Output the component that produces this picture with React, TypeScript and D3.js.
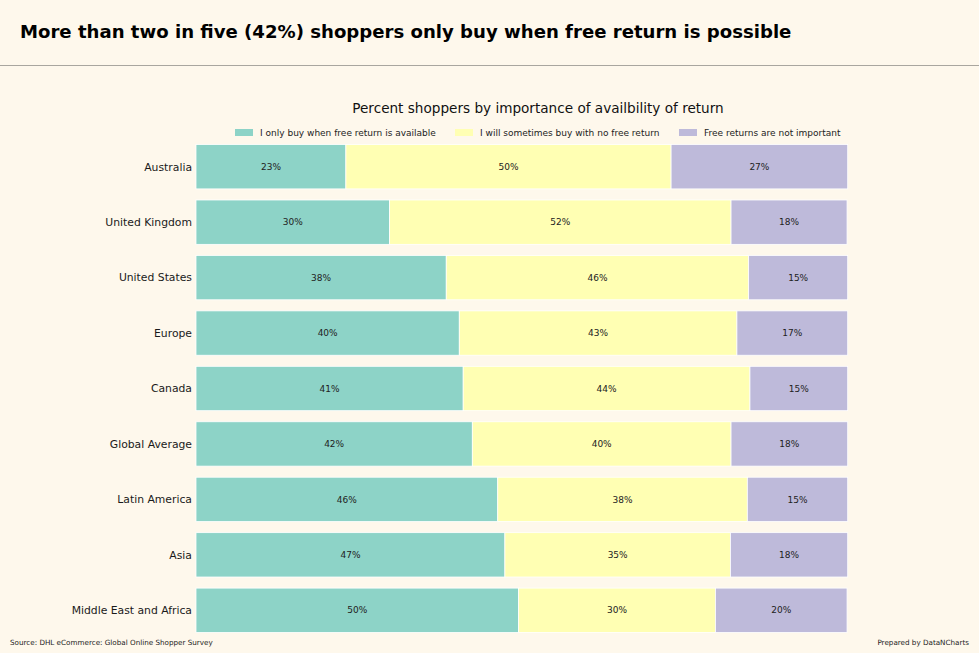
import { useEffect, useRef } from 'react';
import * as d3 from 'd3';

const regions = [
  'Australia',
  'United Kingdom',
  'United States',
  'Europe',
  'Canada',
  'Global Average',
  'Latin America',
  'Asia',
  'Middle East and Africa',
];
const onlyFree = [23.0, 29.7, 38.4, 40.4, 41.0, 42.4, 46.3, 47.4, 49.5];
const sometimes = [49.9, 52.4, 46.4, 42.6, 44.0, 39.7, 38.3, 34.6, 30.2];
const notImportant = [27.1, 17.8, 15.2, 17.0, 15.0, 17.9, 15.4, 18.0, 20.2];
const seriesNames = [
  'I only buy when free return is available',
  'I will sometimes buy with no free return',
  'Free returns are not important',
];
const seriesColors = ['#8dd3c7', '#ffffb3', '#bebada'];

const W = 979;
const H = 653;
const FONT = '"DejaVu Sans", sans-serif';

const App = () => {
  const svgRef = useRef<SVGSVGElement>(null);

  useEffect(() => {
    if (!svgRef.current) return;
    const svg = d3.select(svgRef.current);
    svg.selectAll('*').remove();

    svg.append('rect').attr('width', W).attr('height', H).attr('fill', '#fef8ec');

    // Header
    svg.append('text')
      .attr('x', 20)
      .attr('y', 38)
      .attr('font-family', FONT)
      .attr('font-weight', 'bold')
      .attr('font-size', 18.1)
      .attr('fill', '#000')
      .text('More than two in five (42%) shoppers only buy when free return is possible');

    svg.append('line')
      .attr('x1', 0).attr('x2', W)
      .attr('y1', 65.5).attr('y2', 65.5)
      .attr('stroke', '#a9a69f')
      .attr('stroke-width', 1);

    const margin = { left: 196, right: 131.3, top: 139, bottom: 15 };

    const rows = regions.map((r, i) => {
      const vals = [onlyFree[i], sometimes[i], notImportant[i]];
      let acc = 0;
      const segs = vals.map((v, k) => {
        const s = { key: k, value: v, x0: acc, x1: acc + v };
        acc += v;
        return s;
      });
      return { region: r, segs };
    });

    const x = d3.scaleLinear().domain([0, 100]).range([margin.left, W - margin.right]);
    const y = d3.scaleBand<string>()
      .domain(regions)
      .range([margin.top, H - margin.bottom])
      .paddingInner(0.2)
      .paddingOuter(0.1);

    // Subtitle
    svg.append('text')
      .attr('x', 538)
      .attr('y', 113)
      .attr('text-anchor', 'middle')
      .attr('font-family', FONT)
      .attr('font-size', 13.6)
      .attr('fill', '#111')
      .text('Percent shoppers by importance of availbility of return');

    // Legend
    const legendX = [235, 455, 679];
    const legend = svg.append('g');
    seriesNames.forEach((name, k) => {
      legend.append('rect')
        .attr('x', legendX[k]).attr('y', 129)
        .attr('width', 18).attr('height', 7)
        .attr('fill', seriesColors[k]);
      legend.append('text')
        .attr('x', legendX[k] + 25)
        .attr('y', 136)
        .attr('font-family', FONT)
        .attr('font-size', 9)
        .attr('fill', '#222')
        .text(name);
    });

    // Bars
    const g = svg.append('g');
    const rowG = g.selectAll('g.row')
      .data(rows)
      .enter()
      .append('g')
      .attr('class', 'row');

    rowG.selectAll('rect')
      .data(d => d.segs.map(s => ({ ...s, region: d.region })))
      .enter()
      .append('rect')
      .attr('x', d => x(d.x0))
      .attr('y', d => y(d.region) as number)
      .attr('width', d => x(d.x1) - x(d.x0))
      .attr('height', y.bandwidth())
      .attr('fill', d => seriesColors[d.key])
      .attr('stroke', '#fff')
      .attr('stroke-width', 0.8);

    rowG.selectAll('text.val')
      .data(d => d.segs.map(s => ({ ...s, region: d.region })))
      .enter()
      .append('text')
      .attr('class', 'val')
      .attr('x', d => (x(d.x0) + x(d.x1)) / 2)
      .attr('y', d => (y(d.region) as number) + y.bandwidth() / 2)
      .attr('dy', '0.35em')
      .attr('text-anchor', 'middle')
      .attr('font-family', FONT)
      .attr('font-size', 9)
      .attr('fill', '#222')
      .text(d => `${Math.round(d.value)}%`);

    // Y axis labels
    g.selectAll('text.cat')
      .data(regions)
      .enter()
      .append('text')
      .attr('class', 'cat')
      .attr('x', margin.left - 4)
      .attr('y', d => (y(d) as number) + y.bandwidth() / 2)
      .attr('dy', '0.35em')
      .attr('text-anchor', 'end')
      .attr('font-family', FONT)
      .attr('font-size', 10.8)
      .attr('fill', '#1a1a1a')
      .text(d => d);

    // Footer
    svg.append('text')
      .attr('x', 10).attr('y', 645)
      .attr('font-family', FONT)
      .attr('font-size', 7.2)
      .attr('fill', '#222')
      .text('Source: DHL eCommerce: Global Online Shopper Survey');
    svg.append('text')
      .attr('x', 969).attr('y', 645)
      .attr('text-anchor', 'end')
      .attr('font-family', FONT)
      .attr('font-size', 7.2)
      .attr('fill', '#222')
      .text('Prepared by DataNCharts');
  }, []);

  return (
    <div style={{ position: 'fixed', left: 0, top: 0 }}>
      <svg ref={svgRef} width={W} height={H} style={{ display: 'block' }}></svg>
    </div>
  );
};

export default App;
